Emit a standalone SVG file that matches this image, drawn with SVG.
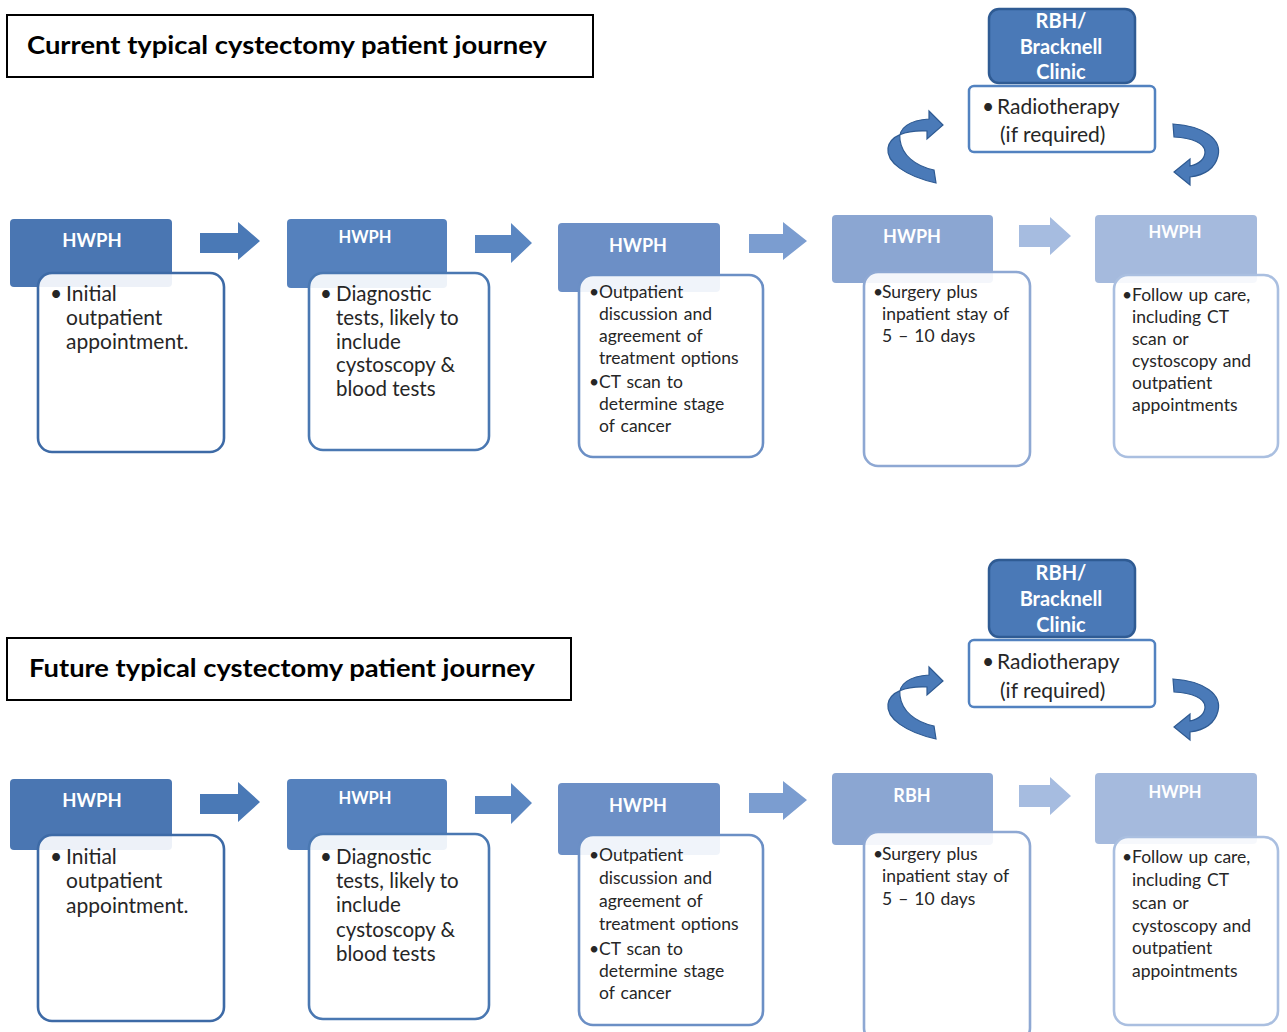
<svg xmlns="http://www.w3.org/2000/svg" width="1287" height="1032" viewBox="0 0 1287 1032">
<style>
.title{font-family:Lato,"Liberation Sans",sans-serif;font-weight:bold;font-size:25px;fill:#000}
.tbox{fill:#fff;stroke:#000;stroke-width:2}
.hd{font-family:Lato,"Liberation Sans",sans-serif;font-weight:bold;fill:#fff;text-anchor:middle}
.bd{fill:#fff;fill-opacity:0.9;stroke-width:2.6}
.tx{font-family:Lato,"Liberation Sans",sans-serif;fill:#262626}
.t21{font-size:21px}
.t20{font-size:20.5px}
.t18{font-size:17.5px;word-spacing:1.5px}
.curve{fill:#4a7ab8;stroke:#2e5a92;stroke-width:1.2}
</style>
<rect width="1287" height="1032" fill="#fff"/>

<!-- Titles -->
<g id="title-current">
<rect class="tbox" x="7" y="15" width="586" height="62"/>
<text class="title" x="27" y="54" textLength="520" lengthAdjust="spacingAndGlyphs">Current typical cystectomy patient journey</text>
</g>
<g id="title-future">
<rect class="tbox" x="7" y="638" width="564" height="62"/>
<text class="title" x="29" y="677" textLength="506" lengthAdjust="spacingAndGlyphs">Future typical cystectomy patient journey</text>
</g>

<!-- Connectors -->
<g id="connectors">
<path fill="#4a79b6" d="M200 233 H238 V222 L260 241 L238 260 V253 H200 Z"/>
<path fill="#5a86c1" d="M475 235 H511 V223 L532 243 L511 263 V253 H475 Z"/>
<path fill="#7b9dd0" d="M749 234 H783 V222 L807 241 L783 260 V253 H749 Z"/>
<path fill="#a6bce0" d="M1019 225 H1050 V217 L1071 236 L1050 255 V247 H1019 Z"/>
<path class="curve" d="M936 183 C905 176 886 162 888 148 C890 136 905 130 927 131 L927 139 L943 125 L929 111 L929 119 C910 120 898 128 900 140 C902 155 915 166 934 170 Z"/>
<path class="curve" d="M1173 124 C1205 126 1222 140 1218 156 C1215 168 1205 175 1190 177 L1190 185 L1174 172 L1190 159 L1190 166 C1200 164 1205 158 1205 152 C1205 143 1192 138 1174 137 Z"/>

<path fill="#4a79b6" d="M200 794 H238 V782 L260 802 L238 822 V814 H200 Z"/>
<path fill="#5a86c1" d="M475 796 H511 V783 L532 803 L511 824 V814 H475 Z"/>
<path fill="#7b9dd0" d="M749 793 H783 V781 L807 800 L783 820 V813 H749 Z"/>
<path fill="#a6bce0" d="M1019 785 H1050 V777 L1071 796 L1050 815 V807 H1019 Z"/>
<path class="curve" transform="translate(0,556)" d="M936 183 C905 176 886 162 888 148 C890 136 905 130 927 131 L927 139 L943 125 L929 111 L929 119 C910 120 898 128 900 140 C902 155 915 166 934 170 Z"/>
<path class="curve" transform="translate(0,555)" d="M1173 124 C1205 126 1222 140 1218 156 C1215 168 1205 175 1190 177 L1190 185 L1174 172 L1190 159 L1190 166 C1200 164 1205 158 1205 152 C1205 143 1192 138 1174 137 Z"/>
</g>

<!-- Row 1 -->
<g id="c-node1">
<rect x="10" y="219" width="162" height="68" rx="4" fill="#4a76b2"/>
<text class="hd" x="92" y="247" font-size="18.5">HWPH</text>
<rect class="bd" x="38" y="273" width="186" height="179" rx="14" stroke="#3d6aa6"/>
<text class="tx t21"><tspan x="50" y="301">•</tspan><tspan x="66" y="301">Initial</tspan><tspan x="66" y="325">outpatient</tspan><tspan x="66" y="349">appointment.</tspan></text>
</g>
<g id="c-node2">
<rect x="287" y="219" width="160" height="69" rx="4" fill="#5581bd"/>
<text class="hd" x="365" y="243" font-size="16.5">HWPH</text>
<rect class="bd" x="309" y="273" width="180" height="177" rx="14" stroke="#4a78b2"/>
<text class="tx t20"><tspan x="320" y="301">•</tspan><tspan x="336" y="301">Diagnostic</tspan><tspan x="336" y="325">tests, likely to</tspan><tspan x="336" y="349">include</tspan><tspan x="336" y="372">cystoscopy &amp;</tspan><tspan x="336" y="396">blood tests</tspan></text>
</g>
<g id="c-node3">
<rect x="558" y="223" width="162" height="69" rx="4" fill="#6c8fc6"/>
<text class="hd" x="638" y="252" font-size="18">HWPH</text>
<rect class="bd" x="579" y="275" width="184" height="182" rx="14" stroke="#6b8fc5"/>
<text class="tx t18"><tspan x="589" y="298">•</tspan><tspan x="599" y="298">Outpatient</tspan><tspan x="599" y="320">discussion and</tspan><tspan x="599" y="342">agreement of</tspan><tspan x="599" y="364">treatment options</tspan><tspan x="589" y="388">•</tspan><tspan x="599" y="388">CT scan to</tspan><tspan x="599" y="410">determine stage</tspan><tspan x="599" y="432">of cancer</tspan></text>
</g>
<g id="c-node4">
<rect x="832" y="215" width="161" height="68" rx="4" fill="#8ba6d2"/>
<text class="hd" x="912" y="243" font-size="18">HWPH</text>
<rect class="bd" x="864" y="272" width="166" height="194" rx="14" stroke="#8ea8d3"/>
<text class="tx t18"><tspan x="873" y="298">•</tspan><tspan x="882" y="298">Surgery plus</tspan><tspan x="882" y="320">inpatient stay of</tspan><tspan x="882" y="342">5 – 10 days</tspan></text>
</g>
<g id="c-node5">
<rect x="1095" y="215" width="162" height="68" rx="4" fill="#a5badd"/>
<text class="hd" x="1175" y="238" font-size="16.5">HWPH</text>
<rect class="bd" x="1114" y="275" width="164" height="182" rx="14" stroke="#aabfe0"/>
<text class="tx t18"><tspan x="1122" y="301">•</tspan><tspan x="1132" y="301">Follow up care,</tspan><tspan x="1132" y="323">including CT</tspan><tspan x="1132" y="345">scan or</tspan><tspan x="1132" y="367">cystoscopy and</tspan><tspan x="1132" y="389">outpatient</tspan><tspan x="1132" y="411">appointments</tspan></text>
</g>
<g id="c-rbh">
<rect x="989" y="9" width="146" height="74" rx="10" fill="#4a79b7" stroke="#2f5b93" stroke-width="2.5"/>
<text class="hd" font-size="20"><tspan x="1061" y="28">RBH/</tspan><tspan x="1061" y="54">Bracknell</tspan><tspan x="1061" y="79">Clinic</tspan></text>
<rect x="969" y="86" width="186" height="66" rx="5" fill="#fff" stroke="#5282c0" stroke-width="2.5"/>
<text class="tx" font-size="21"><tspan x="982" y="114">•</tspan><tspan x="997" y="114">Radiotherapy</tspan><tspan x="1000" y="142">(if required)</tspan></text>
</g>

<!-- Row 2 -->
<g id="f-node1">
<rect x="10" y="779" width="162" height="71" rx="4" fill="#4a76b2"/>
<text class="hd" x="92" y="807" font-size="18.5">HWPH</text>
<rect class="bd" x="38" y="835" width="186" height="186" rx="14" stroke="#3d6aa6"/>
<text class="tx t21"><tspan x="50" y="864">•</tspan><tspan x="66" y="864">Initial</tspan><tspan x="66" y="888">outpatient</tspan><tspan x="66" y="913">appointment.</tspan></text>
</g>
<g id="f-node2">
<rect x="287" y="779" width="160" height="71" rx="4" fill="#5581bd"/>
<text class="hd" x="365" y="804" font-size="16.5">HWPH</text>
<rect class="bd" x="309" y="834" width="180" height="185" rx="14" stroke="#4a78b2"/>
<text class="tx t20"><tspan x="320" y="864">•</tspan><tspan x="336" y="864">Diagnostic</tspan><tspan x="336" y="888">tests, likely to</tspan><tspan x="336" y="912">include</tspan><tspan x="336" y="937">cystoscopy &amp;</tspan><tspan x="336" y="961">blood tests</tspan></text>
</g>
<g id="f-node3">
<rect x="558" y="783" width="162" height="72" rx="4" fill="#6c8fc6"/>
<text class="hd" x="638" y="812" font-size="18">HWPH</text>
<rect class="bd" x="579" y="835" width="184" height="190" rx="14" stroke="#6b8fc5"/>
<text class="tx t18"><tspan x="589" y="861">•</tspan><tspan x="599" y="861">Outpatient</tspan><tspan x="599" y="884">discussion and</tspan><tspan x="599" y="907">agreement of</tspan><tspan x="599" y="930">treatment options</tspan><tspan x="589" y="955">•</tspan><tspan x="599" y="955">CT scan to</tspan><tspan x="599" y="977">determine stage</tspan><tspan x="599" y="999">of cancer</tspan></text>
</g>
<g id="f-node4">
<rect x="832" y="773" width="161" height="72" rx="4" fill="#8ba6d2"/>
<text class="hd" x="912" y="802" font-size="18">RBH</text>
<rect class="bd" x="864" y="832" width="166" height="210" rx="14" stroke="#8ea8d3"/>
<text class="tx t18"><tspan x="873" y="860">•</tspan><tspan x="882" y="860">Surgery plus</tspan><tspan x="882" y="882">inpatient stay of</tspan><tspan x="882" y="905">5 – 10 days</tspan></text>
</g>
<g id="f-node5">
<rect x="1095" y="773" width="162" height="71" rx="4" fill="#a5badd"/>
<text class="hd" x="1175" y="798" font-size="16.5">HWPH</text>
<rect class="bd" x="1114" y="837" width="164" height="188" rx="14" stroke="#aabfe0"/>
<text class="tx t18"><tspan x="1122" y="863">•</tspan><tspan x="1132" y="863">Follow up care,</tspan><tspan x="1132" y="886">including CT</tspan><tspan x="1132" y="909">scan or</tspan><tspan x="1132" y="932">cystoscopy and</tspan><tspan x="1132" y="954">outpatient</tspan><tspan x="1132" y="977">appointments</tspan></text>
</g>
<g id="f-rbh">
<rect x="989" y="560" width="146" height="77" rx="10" fill="#4a79b7" stroke="#2f5b93" stroke-width="2.5"/>
<text class="hd" font-size="20"><tspan x="1061" y="580">RBH/</tspan><tspan x="1061" y="606">Bracknell</tspan><tspan x="1061" y="632">Clinic</tspan></text>
<rect x="969" y="640" width="186" height="67" rx="5" fill="#fff" stroke="#5282c0" stroke-width="2.5"/>
<text class="tx" font-size="21"><tspan x="982" y="669">•</tspan><tspan x="997" y="669">Radiotherapy</tspan><tspan x="1000" y="698">(if required)</tspan></text>
</g>
</svg>
